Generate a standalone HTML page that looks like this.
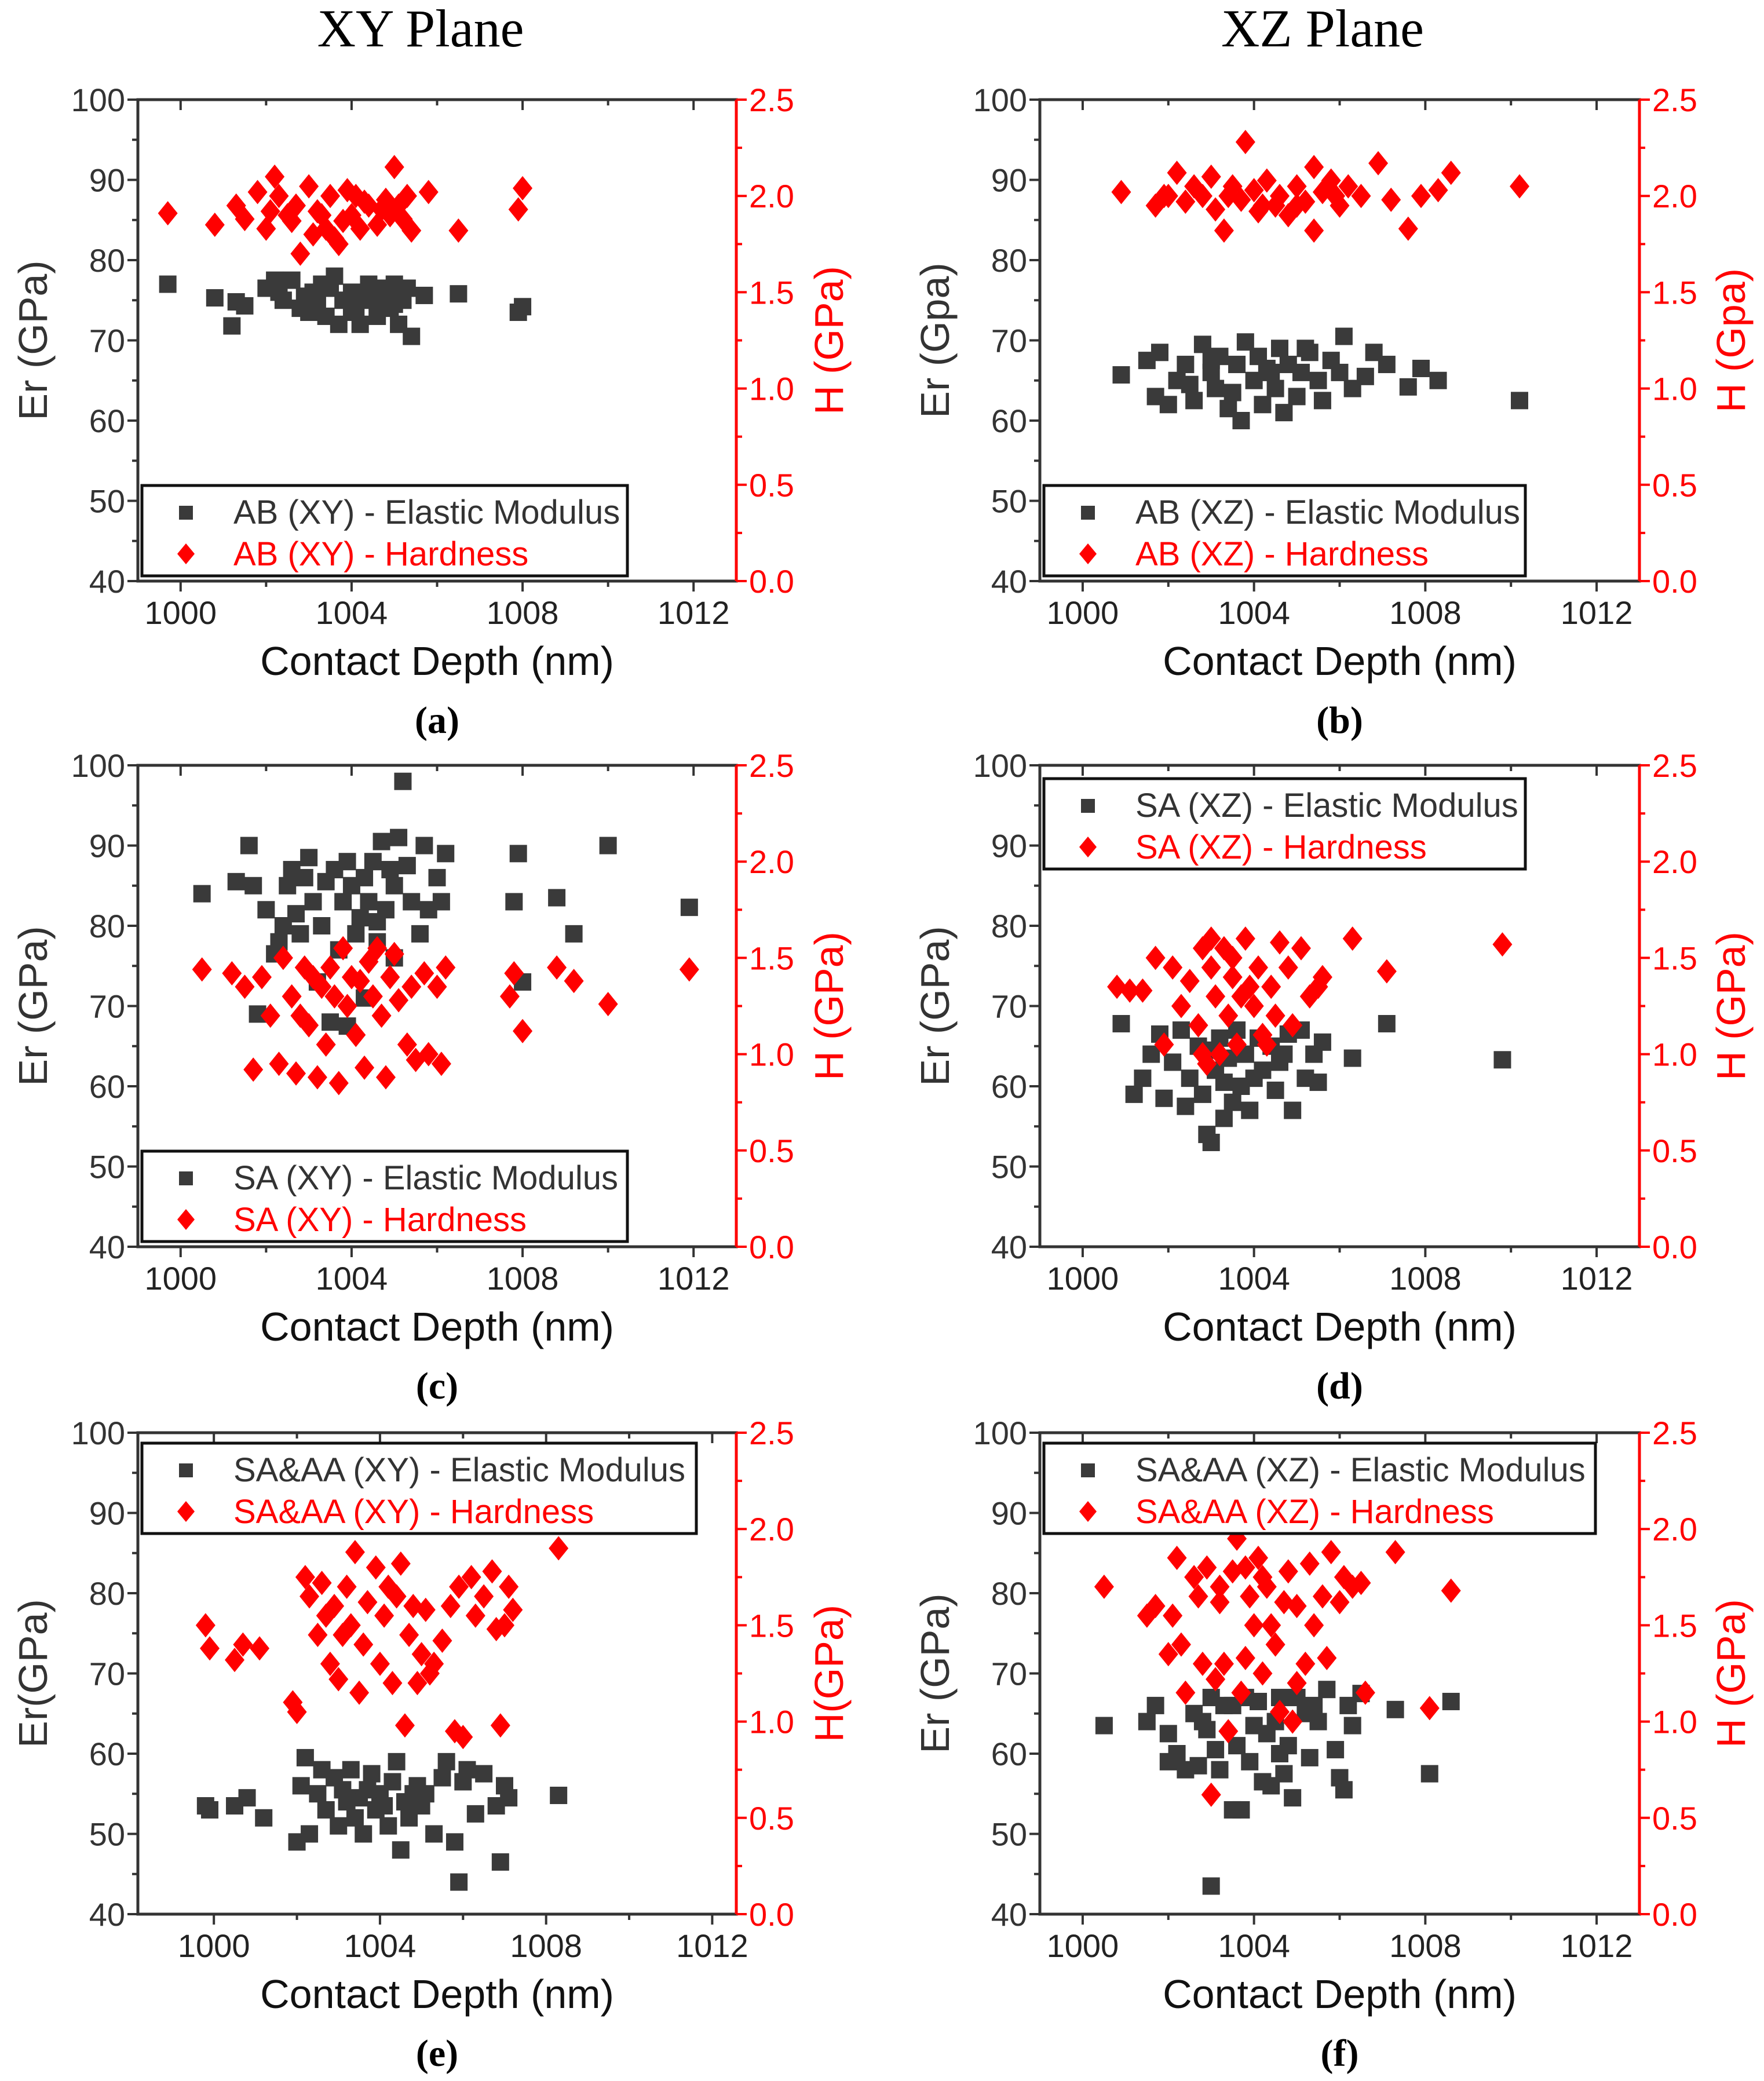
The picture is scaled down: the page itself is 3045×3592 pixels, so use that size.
<!DOCTYPE html>
<html><head><meta charset="utf-8"><style>
html,body{margin:0;padding:0;background:#fff}
svg{display:block}
text{font-family:"Liberation Sans",Arial,sans-serif}
.serif{font-family:"Liberation Serif","Times New Roman",serif}
</style></head><body>
<svg id="chart" width="3045" height="3592" viewBox="0 0 3045 3592" xmlns="http://www.w3.org/2000/svg">
<text class="serif" x="726" y="80" font-size="92" text-anchor="middle" fill="#000">XY Plane</text>
<text class="serif" x="2283" y="80" font-size="92" text-anchor="middle" fill="#000">XZ Plane</text>
</svg>
<script>
// Panel (a)
const aErX=[999.7,1000.8,1001.2,1001.3,1001.5,1002,1002.2,1002.4,1002.6,1002.8,1003,1003.1,1003.3,1003.4,1003.6,1003.7,1003.8,1004,1004.1,1004.2,1004.4,1004.5,1004.6,1004.8,1004.9,1005,1005.1,1005.2,1005.3,1005.4,1005.7,1006.5,1007.9,1008,1002.3,1002.9,1003.5,1004.3,1004.7,1003.2,1004,1005];
const aEr=[77,75.3,71.8,74.8,74.3,76.5,77.5,75,77.5,74,73.5,76,77,73,78,72,75,76,74,72,77,75,73,76,74,77,72,75,76.5,70.5,75.6,75.8,73.5,74.2,76,75.5,76.5,75.5,76.5,74.5,73.5,74.5];
const aHX=[999.7,1000.8,1001.3,1001.5,1001.8,1002,1002.2,1002.3,1002.5,1002.7,1002.8,1003,1003.1,1003.3,1003.5,1003.6,1003.7,1003.9,1004,1004.2,1004.4,1004.6,1004.8,1005,1005.1,1005.3,1005.4,1005.8,1006.5,1007.9,1008,1002.6,1003.2,1003.8,1004.3,1004.9,1005.2,1002.1,1003.4,1004.1,1004.7];
const aH=[1.91,1.85,1.95,1.88,2.02,1.83,2.1,2.0,1.9,1.95,1.7,2.05,1.8,1.9,2.0,1.78,1.75,2.03,1.9,1.83,1.95,1.85,1.98,2.15,1.95,2.0,1.82,2.02,1.82,1.93,2.04,1.87,1.92,1.87,1.97,1.9,1.88,1.92,1.83,2.0,1.93];
// Panel (b)
const bErX=[1000.9,1001.5,1001.7,1001.8,1002,1002.2,1002.4,1002.6,1002.8,1003,1003.1,1003.2,1003.4,1003.5,1003.6,1003.7,1003.8,1004,1004.1,1004.2,1004.3,1004.5,1004.6,1004.7,1004.8,1005,1005.1,1005.3,1005.5,1005.6,1005.8,1006,1006.1,1006.3,1006.6,1006.8,1007.1,1007.6,1007.9,1008.3,1010.2,1003,1004.4,1005.2,1002.5];
const bEr=[65.7,67.5,63,68.5,62,65,67,62.5,69.5,66,64,68,61.5,63.5,67,60,69.8,65,68,62,66.5,64,69,61,67,63,66,68.5,65,62.5,67.5,66,70.5,64,65.5,68.5,67,64.2,66.5,65,62.5,67.5,66,69,64.5];
const bHX=[1000.9,1001.7,1001.9,1002.2,1002.4,1002.6,1002.8,1003,1003.1,1003.3,1003.5,1003.7,1003.8,1004,1004.1,1004.3,1004.5,1004.6,1004.8,1005,1005.2,1005.4,1005.4,1005.6,1005.8,1006,1006.2,1006.5,1006.9,1007.2,1007.6,1007.9,1008.3,1008.6,1010.2,1002,1003.4,1004.2,1005,1005.9];
const bH=[2.02,1.95,2.0,2.12,1.97,2.05,2.0,2.1,1.93,1.82,2.05,1.98,2.28,2.03,1.92,2.08,1.95,2.0,1.9,2.05,1.97,2.15,1.82,2.02,2.08,1.95,2.05,2.0,2.17,1.98,1.83,2.0,2.03,2.12,2.05,2.0,2.0,1.95,1.95,2.0];
// Panel (c)
const cErX=[1000.5,1001.3,1001.6,1001.7,1001.8,1002,1002.2,1002.4,1002.5,1002.6,1002.8,1002.9,1003,1003.1,1003.3,1003.4,1003.5,1003.6,1003.7,1003.8,1003.9,1004,1004.1,1004.2,1004.3,1004.4,1004.5,1004.6,1004.7,1004.8,1004.9,1005,1005.1,1005.2,1005.3,1005.4,1005.6,1005.7,1005.8,1006,1006.1,1006.2,1007.8,1007.9,1008,1008.8,1009.2,1010,1011.9,1002.3,1003.2,1003.9,1004.3,1005,1002.7,1004.6];
const cEr=[84,85.5,90,85,69,82,76.5,80,85,87,79,86,88.5,83,80,85.5,68,87,77,83,88,85,79,81,86,83,88,78,90.5,82,87,85,91,98,87.5,83,79,90,82,86,83,89,83,89,73,83.5,79,90,82.3,78,73,67.5,71,76,81.5,80.5];
const cHX=[1000.5,1001.2,1001.5,1001.7,1001.9,1002.1,1002.3,1002.4,1002.6,1002.7,1002.9,1003,1003.2,1003.3,1003.4,1003.6,1003.7,1003.8,1003.9,1004,1004.1,1004.3,1004.4,1004.5,1004.7,1004.8,1004.9,1005,1005.1,1005.3,1005.4,1005.5,1005.7,1005.8,1006,1006.1,1006.2,1007.7,1007.8,1008,1008.8,1009.2,1010,1011.9,1003.5,1004.2,1002.8,1004.6,1003.1];
const cH=[1.44,1.42,1.35,0.92,1.4,1.2,0.95,1.5,1.3,0.9,1.45,1.15,0.88,1.35,1.05,1.3,0.85,1.55,1.25,1.4,1.1,0.93,1.48,1.3,1.2,0.88,1.4,1.52,1.28,1.05,1.35,0.97,1.42,1.0,1.35,0.95,1.45,1.3,1.42,1.12,1.45,1.38,1.26,1.44,1.45,1.38,1.2,1.55,1.4];
// Panel (d)
const dErX=[1000.9,1001.2,1001.4,1001.6,1001.8,1001.9,1002.1,1002.3,1002.4,1002.5,1002.7,1002.8,1002.9,1003,1003.1,1003.2,1003.3,1003.4,1003.5,1003.6,1003.7,1003.8,1003.9,1004.1,1004.2,1004.4,1004.5,1004.6,1004.8,1004.9,1005.1,1005.2,1005.4,1005.5,1005.6,1006.3,1007.1,1009.8,1003,1003.3,1004,1004.7];
const dEr=[67.8,59,61,64,66.5,58.5,63,67,57.5,61,65,59,54,53,62,66,56,63.5,58,67,60,64,57,66,62,65,59.5,63,66.5,57,67,61,64,60.5,65.5,63.5,67.8,63.3,64.5,60.5,61,64];
const dHX=[1000.8,1001.1,1001.4,1001.7,1001.9,1002.1,1002.3,1002.5,1002.7,1002.8,1002.9,1003,1003.1,1003.2,1003.3,1003.4,1003.5,1003.6,1003.7,1003.8,1004,1004.1,1004.2,1004.4,1004.5,1004.6,1004.8,1004.9,1005.1,1005.3,1005.5,1005.6,1006.3,1007.1,1009.8,1003,1003.5,1004.3,1002.8,1003.9];
const dH=[1.35,1.33,1.33,1.5,1.05,1.45,1.25,1.38,1.15,1.55,0.95,1.45,1.3,1.0,1.55,1.2,1.4,1.05,1.3,1.6,1.25,1.45,1.1,1.35,1.2,1.58,1.45,1.15,1.55,1.3,1.35,1.4,1.6,1.43,1.57,1.6,1.5,1.05,1.0,1.35];
// Panel (e)
const eErX=[999.8,999.9,1000.5,1000.8,1001.2,1002,1002.1,1002.2,1002.3,1002.5,1002.6,1002.7,1002.9,1003,1003.1,1003.3,1003.4,1003.5,1003.6,1003.8,1003.9,1004,1004.2,1004.3,1004.4,1004.5,1004.6,1004.7,1004.9,1005,1005.1,1005.3,1005.5,1005.6,1005.8,1005.9,1006,1006.1,1006.3,1006.5,1006.8,1006.9,1007,1007.1,1008.3,1003.2,1004.1,1004.8,1003.7];
const eEr=[53.5,53,53.5,54.5,52,49,56,59.5,50,55,58,53,57,51,55.5,58,52,54.5,50,57.5,53,55,51,56.5,59,48,54,52,56,53.5,55,50,57,59,49,44,56.5,58,52.5,57.5,53.5,46.5,56,54.5,54.8,54,53.5,55,55.5];
const eHX=[999.8,999.9,1000.5,1000.7,1001.1,1001.9,1002,1002.2,1002.3,1002.5,1002.6,1002.8,1002.9,1003,1003.2,1003.3,1003.4,1003.5,1003.6,1003.7,1003.9,1004,1004.1,1004.2,1004.3,1004.5,1004.6,1004.7,1004.8,1004.9,1005,1005.1,1005.3,1005.5,1005.7,1005.8,1005.9,1006,1006.2,1006.3,1006.5,1006.7,1006.8,1006.9,1007,1007.1,1007.2,1008.3,1003.1,1004.4,1005.2,1002.7];
const eH=[1.5,1.38,1.32,1.4,1.38,1.1,1.05,1.75,1.65,1.45,1.72,1.3,1.6,1.22,1.7,1.5,1.88,1.15,1.4,1.62,1.8,1.3,1.55,1.7,1.2,1.82,0.98,1.45,1.6,1.2,1.35,1.58,1.3,1.42,1.6,0.95,1.7,0.92,1.75,1.55,1.65,1.78,1.48,0.98,1.5,1.7,1.58,1.9,1.45,1.65,1.25,1.55];
// Panel (f)
const fErX=[1000.5,1001.5,1001.7,1002,1002,1002.2,1002.4,1002.6,1002.7,1002.8,1003,1003.1,1003.2,1003.3,1003.5,1003.6,1003.7,1003.8,1003.9,1004,1004.1,1004.2,1004.3,1004.4,1004.5,1004.6,1004.7,1004.9,1005,1005.2,1005.3,1005.4,1005.5,1005.7,1005.9,1006,1006.1,1006.2,1006.3,1006.5,1007.3,1008.1,1008.6,1003.0,1003.5,1004.6,1002.9,1004.8];
const fEr=[63.5,64,66,62.5,59,60,58,65,58.5,64,67,60.5,58,66,53,61,53,67,59,63.5,66.5,56.5,62.5,56,64,60,57.5,54.5,67,65,59.5,66,64,68,60.5,57,55.5,66,63.5,67.5,65.5,57.5,66.5,43.5,66,67,63,61];
const fHX=[1000.5,1001.5,1001.7,1002,1002.1,1002.2,1002.3,1002.4,1002.6,1002.7,1002.8,1002.9,1003,1003.1,1003.2,1003.3,1003.4,1003.5,1003.6,1003.7,1003.8,1003.9,1004,1004.1,1004.2,1004.3,1004.4,1004.5,1004.6,1004.7,1004.8,1004.9,1005,1005.2,1005.3,1005.4,1005.6,1005.7,1005.8,1006,1006.1,1006.3,1006.5,1006.6,1007.3,1008.1,1008.6,1003.2,1004.2,1005,1003.8];
const fH=[1.7,1.55,1.6,1.35,1.55,1.85,1.4,1.15,1.75,1.65,1.3,1.8,0.62,1.22,1.7,1.3,0.95,1.78,1.95,1.15,1.33,1.65,1.5,1.85,1.25,1.7,1.5,1.4,1.05,1.62,1.78,1.0,1.6,1.3,1.82,1.5,1.65,1.33,1.88,1.62,1.75,1.7,1.72,1.15,1.88,1.07,1.68,1.62,1.75,1.2,1.8];

const xTicks=[1000,1004,1008,1012];
const erTicks=[40,50,60,70,80,90,100];
const hTicks=[0.0,0.5,1.0,1.5,2.0,2.5];

const NS='http://www.w3.org/2000/svg';
const svg=document.getElementById('chart');
function mk(tag,attrs,parent,txt){const e=document.createElementNS(NS,tag);for(const k in attrs)e.setAttribute(k,attrs[k]);if(txt!==undefined)e.textContent=txt;(parent||svg).appendChild(e);return e;}

const panels=[
 {id:'a',col:0,row:0,xr:[999,1013],ex:aErX,ey:aEr,hx:aHX,hy:aH,l1:'AB (XY) - Elastic Modulus',l2:'AB (XY) - Hardness',lw:838,lt:666,ylab:'Er (GPa)',hlab:'H (GPa)'},
 {id:'b',col:1,row:0,xr:[999,1013],ex:bErX,ey:bEr,hx:bHX,hy:bH,l1:'AB (XZ) - Elastic Modulus',l2:'AB (XZ) - Hardness',lw:831,lt:666,ylab:'Er (Gpa)',hlab:'H (Gpa)'},
 {id:'c',col:0,row:1,xr:[999,1013],ex:cErX,ey:cEr,hx:cHX,hy:cH,l1:'SA (XY) - Elastic Modulus',l2:'SA (XY) - Hardness',lw:838,lt:666,ylab:'Er (GPa)',hlab:'H (GPa)'},
 {id:'d',col:1,row:1,xr:[999,1013],ex:dErX,ey:dEr,hx:dHX,hy:dH,l1:'SA (XZ) - Elastic Modulus',l2:'SA (XZ) - Hardness',lw:831,lt:23,ylab:'Er (GPa)',hlab:'H (GPa)'},
 {id:'e',col:0,row:2,xr:[998.17,1012.58],ex:eErX,ey:eEr,hx:eHX,hy:eH,l1:'SA&AA (XY) - Elastic Modulus',l2:'SA&AA (XY) - Hardness',lw:957,lt:18,ylab:'Er(GPa)',hlab:'H(GPa)'},
 {id:'f',col:1,row:2,xr:[999,1013],ex:fErX,ey:fEr,hx:fHX,hy:fH,l1:'SA&AA (XZ) - Elastic Modulus',l2:'SA&AA (XZ) - Hardness',lw:952,lt:18,ylab:'Er (GPa)',hlab:'H (GPa)'}
];
const colX=[[238,1271],[1795,2830]];
const rowY=[[172,1003],[1321,2152],[2473,3304]];
const erTitleX=[57,1614], hTitleX=[1431,2988];

panels.forEach(p=>{
 const [x0,x1]=colX[p.col],[y0,y1]=rowY[p.row];
 const g=mk('g',{},svg);
 
 
 const sx=v=>x0+(v-p.xr[0])/(p.xr[1]-p.xr[0])*(x1-x0);
 const sEr=v=>y1-(v-40)/60*(y1-y0);
 const sH=v=>y1-v/2.5*(y1-y0);
 const fr=mk('rect',{x:x0,y:y0,width:x1-x0,height:y1-y0,fill:'none',stroke:'#333','stroke-width':5},g);
 
 
 const ra=mk('line',{x1:x1,y1:y0,x2:x1,y2:y1,stroke:'#f00','stroke-width':5},g);
 
 
 for(let v=Math.ceil(p.xr[0]/2)*2;v<=p.xr[1];v+=2){
  const X=sx(v),len=(v%4===0)?18:10;
  mk('line',{x1:X,y1:y1,x2:X,y2:y1+len,stroke:'#333','stroke-width':4},g);
  mk('line',{x1:X,y1:y0,x2:X,y2:y0+len,stroke:'#333','stroke-width':4},g);
 }
 xTicks.forEach(v=>{
  const t=mk('text',{x:sx(v),y:y1+74,'font-size':56,'text-anchor':'middle',fill:'#222'},g,String(v));
  
  
 });
 for(let v=40;v<=100;v+=5){
  const Y=sEr(v),len=(v%10===0)?18:10;
  mk('line',{x1:x0-len,y1:Y,x2:x0,y2:Y,stroke:'#333','stroke-width':4},g);
 }
 erTicks.forEach(v=>{
  const t=mk('text',{x:x0-22,y:sEr(v)+20,'font-size':56,'text-anchor':'end',fill:'#333'},g,String(v));
  
  
 });
 for(let i=0;i<=10;i++){
  const v=i*0.25,Y=sH(v),len=(i%2===0)?18:10;
  mk('line',{x1:x1,y1:Y,x2:x1+len,y2:Y,stroke:'#f00','stroke-width':4},g);
 }
 hTicks.forEach(v=>{
  const t=mk('text',{x:x1+22,y:sH(v)+20,'font-size':56,'text-anchor':'start',fill:'#f00'},g,v.toFixed(1));
  
  
 });
 const xt=mk('text',{x:(x0+x1)/2,y:y1+162,'font-size':70,'text-anchor':'middle',fill:'#111'},g,'Contact Depth (nm)');
 
 
 const yt=mk('text',{x:0,y:0,'font-size':70,'text-anchor':'middle',fill:'#333',transform:`translate(${erTitleX[p.col]+24},${(y0+y1)/2}) rotate(-90)`},g,p.ylab);
 
 
 const ht=mk('text',{x:0,y:0,'font-size':70,'text-anchor':'middle',fill:'#f00',transform:`translate(${hTitleX[p.col]+24},${(y0+y1)/2}) rotate(-90)`},g,p.hlab);
 
 
 const pl=mk('text',{x:(x0+x1)/2,y:y1+262,'font-size':66,'text-anchor':'middle',fill:'#000','font-weight':'bold',class:'serif'},g,'('+p.id+')');
 
 
 p.ex.forEach((xv,i)=>{
  const s=mk('rect',{x:sx(xv)-15,y:sEr(p.ey[i])-15,width:30,height:30,fill:'#3a3a3a'},g);
  
  
 });
 p.hx.forEach((xv,i)=>{
  const X=sx(xv),Y=sH(p.hy[i]);
  const d=mk('polygon',{points:`${X},${Y-21} ${X+17},${Y} ${X},${Y+21} ${X-17},${Y}`,fill:'#f00'},g);
  
  
 });
 const lx=x0+7,ly=y0+p.lt;
 const lg=mk('g',{},g);
 
 
 mk('rect',{x:lx,y:ly,width:p.lw,height:156,fill:'#fff',stroke:'#111','stroke-width':5},lg);
 const ls=mk('rect',{x:lx+64,y:ly+35,width:24,height:24,fill:'#3a3a3a'},lg);
 
 
 const lt1=mk('text',{x:lx+158,y:ly+66,'font-size':58,fill:'#333'},lg,p.l1);
 
 
 const X=lx+76,Y=ly+118;
 const ld=mk('polygon',{points:`${X},${Y-18} ${X+15},${Y} ${X},${Y+18} ${X-15},${Y}`,fill:'#f00'},lg);
 
 
 const lt2=mk('text',{x:lx+158,y:ly+138,'font-size':58,fill:'#f00'},lg,p.l2);
 
 
});
</script>
</body></html>
